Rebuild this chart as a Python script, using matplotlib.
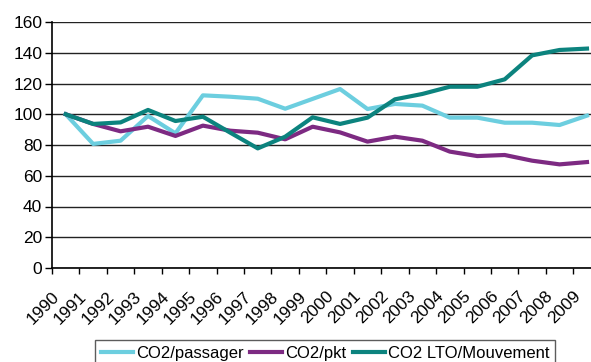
import matplotlib.pyplot as plt
import matplotlib.transforms as mtransforms
import numpy as np

plt.rcParams['font.family'] = ['Liberation Sans', 'DejaVu Sans']

# Indices (base 100 en 1990)
years = [str(y) for y in range(1990, 2010)]
co2_passager = [100, 80.7, 82.8, 98.9, 87.6, 112.3, 111.4, 110.1, 103.6, 110.0,
                116.4, 103.4, 106.7, 105.6, 97.8, 97.8, 94.5, 94.5, 93.0, 99.1]
co2_pkt = [100, 93.7, 88.9, 91.9, 85.9, 92.6, 89.3, 88.0, 83.7, 91.9,
           88.2, 82.2, 85.4, 82.8, 75.7, 72.8, 73.5, 69.8, 67.4, 68.9]
co2_lto = [100, 93.7, 94.7, 102.8, 95.6, 98.4, 88.0, 77.8, 85.4, 98.0,
           93.7, 97.8, 109.7, 113.2, 117.9, 117.9, 122.7, 138.3, 141.8, 142.7]

fig = plt.figure(figsize=(5.91, 3.62), dpi=100)
ax = fig.add_axes([52 / 591, 1 - 268 / 362, 548.7 / 591, 246 / 362])

x = np.arange(len(years))
ax.plot(x, co2_passager, color='#6CCEDF', lw=3, label='CO2/passager')
ax.plot(x, co2_pkt, color='#7D2A82', lw=3, label='CO2/pkt')
ax.plot(x, co2_lto, color='#0C837E', lw=3, label='CO2 LTO/Mouvement')

ax.set_xlim(-0.5, len(years) - 0.5)
ax.set_ylim(0, 160)
ax.set_yticks(range(0, 161, 20))
ax.yaxis.grid(True, color='#222222', lw=1)
ax.set_axisbelow(True)

# labels at category centres, tick marks between categories
ax.set_xticks(x)
ax.set_xticklabels(years, rotation=45, ha='right', va='center', rotation_mode='anchor')
ax.set_xticks(np.arange(-0.5, len(years), 1), minor=True)
ax.tick_params(axis='x', which='major', length=0, pad=0, labelsize=12.5)
ax.tick_params(axis='x', which='minor', length=4.5, width=1, direction='out', color='black')
ax.tick_params(axis='y', length=5, width=1, labelsize=12.5, pad=2)
shift = mtransforms.ScaledTranslation(-0.09, -0.26, fig.dpi_scale_trans)
for lbl in ax.get_xticklabels():
    lbl.set_transform(lbl.get_transform() + shift)

for side in ['top', 'right']:
    ax.spines[side].set_visible(False)
for side in ['left', 'bottom']:
    ax.spines[side].set_color('black')
    ax.spines[side].set_linewidth(1.2)

leg = fig.legend(loc='upper left', bbox_to_anchor=(95 / 591, 1 - 340 / 362), ncol=3,
                 frameon=True, fancybox=False, fontsize=12, handlelength=1.9,
                 handletextpad=0.2, columnspacing=0.4, borderaxespad=0, borderpad=0.35)
leg.get_frame().set_edgecolor('#333333')
leg.get_frame().set_linewidth(1)

fig.savefig('out.png', dpi=100)
